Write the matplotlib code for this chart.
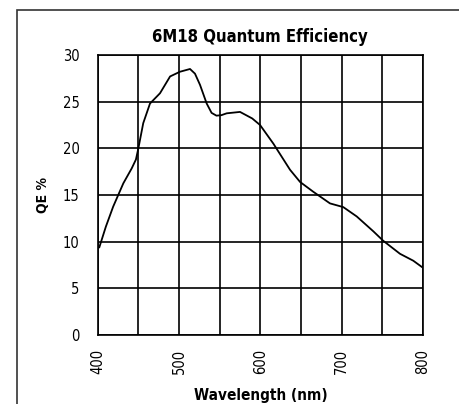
import matplotlib
matplotlib.use('Agg')
from matplotlib import pyplot as plt
from matplotlib.patches import Rectangle

plt.rcParams['font.family'] = ['DejaVu Sans']
plt.rcParams['font.stretch'] = 'condensed'

# QE curve
wavelength = [402, 410, 419, 431.5, 441.8, 447, 450, 456, 464.3, 476.6, 489, 501, 513.5, 519.6,
              525.8, 534, 540, 546, 552, 558.6, 575, 590, 599.6, 616, 636.5, 648.8, 665, 685.6, 702,
              718.5, 739, 751, 771.7, 788, 798.4]
qe = [9.4, 11.6, 13.75, 16.25, 17.85, 18.8, 20.0, 22.7, 24.8, 25.9, 27.7, 28.2, 28.5, 28.0,
      26.8, 24.8, 23.8, 23.5, 23.55, 23.75, 23.9, 23.2, 22.5, 20.5, 17.7, 16.4, 15.35, 14.1, 13.7,
      12.7, 11.1, 10.1, 8.7, 7.96, 7.3]

x_ticks = [400, 500, 600, 700, 800]
x_grid = [450, 550, 650, 750]
y_ticks = [0, 5, 10, 15, 20, 25, 30]

fig = plt.figure(figsize=(4.6, 4.04), dpi=100)
fig.patches.append(Rectangle((17 / 460, -0.1), 1.0, (404 - 9.5) / 404 + 0.1,
                             transform=fig.transFigure, fill=False,
                             edgecolor='#333333', linewidth=1.2))

ax = fig.add_axes([0.2124, 0.1708, 0.7072, 0.6931])
ax.plot(wavelength, qe, color='black', linewidth=1.3)

ax.set_xlim(400, 800)
ax.set_ylim(0, 30)
ax.set_xticks(x_ticks)
ax.set_yticks(y_ticks)
for xv in x_ticks + x_grid:
    ax.axvline(xv, color='black', linewidth=1.2, zorder=0)
for yv in y_ticks:
    ax.axhline(yv, color='black', linewidth=1.2, zorder=0)
for s in ax.spines.values():
    s.set_linewidth(1.2)

ax.tick_params(length=0, labelsize=10.5)
ax.tick_params(axis='y', pad=13)
ax.tick_params(axis='x', pad=10, labelrotation=90)

ax.set_title('6M18 Quantum Efficiency', fontsize=12, fontweight='bold', pad=9)
ax.set_xlabel('Wavelength (nm)', fontsize=11, fontweight='bold', labelpad=10)
ax.set_ylabel('QE %', fontsize=10, fontweight='bold', labelpad=9)

plt.savefig('out.png', dpi=100)
